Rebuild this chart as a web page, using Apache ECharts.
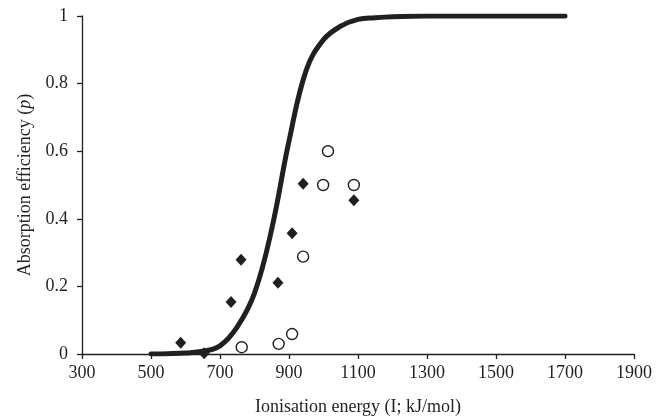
<!DOCTYPE html>
<html>
<head>
<meta charset="utf-8">
<script src="https://cdn.jsdelivr.net/npm/echarts@6/dist/echarts.min.js"></script>
<style>
  html, body { margin: 0; padding: 0; background: #fff; }
  #chart { width: 664px; height: 419px; }
</style>
</head>
<body>
<div id="chart"></div>
<script>
// fitted curve
const curveX = [500, 550, 600, 650, 700, 750, 800, 850, 900, 950, 1000, 1050, 1100, 1150, 1200, 1300, 1400, 1500, 1600, 1700];
const curveP = [0.0, 0.001, 0.003, 0.008, 0.024, 0.08, 0.18, 0.37, 0.63, 0.84, 0.93, 0.97, 0.99, 0.995, 0.998, 1, 1, 1, 1, 1];

// filled diamonds
const diamondX = [586, 654, 732, 761, 868, 909, 941, 1088];
const diamondP = [0.033, 0.002, 0.154, 0.279, 0.211, 0.357, 0.504, 0.455];

// open circles
const circleX = [763, 870, 909, 941, 999, 1013, 1088];
const circleP = [0.02, 0.03, 0.059, 0.288, 0.5, 0.6, 0.5];

const zip = (xs, ys) => xs.map((x, i) => [x, ys[i]]);
const font = "Liberation Serif";
const ink = "#231f20";

const chart = echarts.init(document.getElementById("chart"));
chart.setOption({
  animation: false,
  grid: { left: 82, right: 30, top: 16, bottom: 65, containLabel: false, outerBoundsMode: "none" },
  xAxis: {
    type: "value",
    min: 300,
    max: 1900,
    interval: 200,
    name: "Ionisation energy (I; kJ/mol)",
    nameLocation: "middle",
    nameGap: 44,
    nameTextStyle: { fontFamily: font, fontSize: 18, color: ink },
    axisLine: { show: true, lineStyle: { color: ink, width: 1.3 } },
    axisTick: { show: true, inside: false, length: 5, lineStyle: { color: ink, width: 1.3 } },
    axisLabel: { fontFamily: font, fontSize: 18, color: ink, margin: 10, formatter: v => String(v) },
    splitLine: { show: false }
  },
  yAxis: {
    type: "value",
    min: 0,
    max: 1,
    interval: 0.2,
    name: "{n|Absorption efficiency (}{i|p}{n|)}",
    nameLocation: "middle",
    nameGap: 47,
    nameRotate: 90,
    nameTextStyle: {
      rich: {
        n: { fontFamily: font, fontSize: 18, color: ink },
        i: { fontFamily: font, fontSize: 18, color: ink, fontStyle: "italic" }
      }
    },
    axisLine: { show: true, lineStyle: { color: ink, width: 1.3 } },
    axisTick: { show: true, inside: false, length: 5, lineStyle: { color: ink, width: 1.3 } },
    axisLabel: { fontFamily: font, fontSize: 18, color: ink, margin: 14 },
    splitLine: { show: false }
  },
  series: [
    {
      type: "line",
      data: zip(curveX, curveP),
      smooth: 0.4,
      symbol: "none",
      lineStyle: { color: ink, width: 5, cap: "round" },
      z: 3
    },
    {
      type: "scatter",
      data: zip(diamondX, diamondP),
      symbol: "diamond",
      symbolSize: [11, 12],
      itemStyle: { color: ink, opacity: 1 },
      z: 4
    },
    {
      type: "scatter",
      data: zip(circleX, circleP),
      symbol: "circle",
      symbolSize: 11,
      itemStyle: { color: "#fff", borderColor: ink, borderWidth: 1.4, opacity: 1 },
      z: 4
    }
  ]
});
</script>
</body>
</html>
